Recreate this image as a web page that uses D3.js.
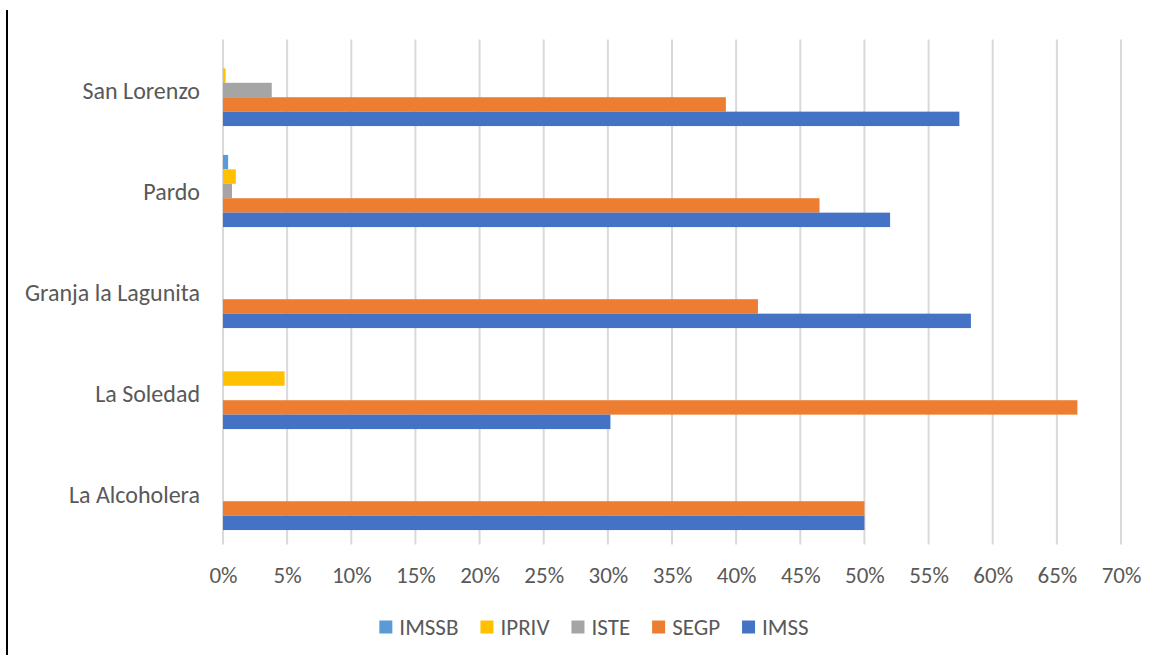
<!DOCTYPE html>
<html>
<head>
<meta charset="utf-8">
<script src="https://cdn.jsdelivr.net/npm/d3@7/dist/d3.min.js"></script>
<style>
  html, body { margin: 0; padding: 0; background: #fff; }
  svg { display: block; }
  text { font-family: Carlito, Calibri, Lato, sans-serif; fill: #595959; }
</style>
</head>
<body>
<svg id="chart" width="1160" height="660"></svg>
<script>
// ---- data ----
const categories = ["San Lorenzo", "Pardo", "Granja la Lagunita", "La Soledad", "La Alcoholera"];
const seriesNames = ["IMSSB", "IPRIV", "ISTE", "SEGP", "IMSS"];
const seriesColors = ["#5B9BD5", "#FFC000", "#A5A5A5", "#ED7D31", "#4472C4"];
const IMSSB = [0.000, 0.004, 0.000, 0.000, 0.000];
const IPRIV = [0.002, 0.010, 0.000, 0.048, 0.000];
const ISTE  = [0.038, 0.007, 0.000, 0.000, 0.000];
const SEGP  = [0.392, 0.465, 0.417, 0.666, 0.500];
const IMSS  = [0.574, 0.520, 0.583, 0.302, 0.500];
const xTicks = [0, 0.05, 0.10, 0.15, 0.20, 0.25, 0.30, 0.35, 0.40, 0.45, 0.50, 0.55, 0.60, 0.65, 0.70];

const seriesValues = [IMSSB, IPRIV, ISTE, SEGP, IMSS];

const svg = d3.select("#chart");
const plot = { left: 223, right: 1121, top: 39.5, bottom: 544.5 };
const FONT = "Carlito, Calibri, Lato, sans-serif";

// left frame line
svg.append("rect").attr("x", 6).attr("y", 10).attr("width", 2).attr("height", 645).attr("fill", "#000");

const x = d3.scaleLinear().domain([0, 0.7]).range([plot.left, plot.right]);
const y0 = d3.scaleBand().domain(categories).range([plot.top, plot.bottom])
  .paddingInner(2 / 7).paddingOuter(1 / 7);
const y1 = d3.scaleBand().domain(seriesNames).range([0, y0.bandwidth()]);

// gridlines
svg.append("g").selectAll("line").data(xTicks).join("line")
  .attr("x1", d => x(d)).attr("x2", d => x(d))
  .attr("y1", plot.top).attr("y2", plot.bottom)
  .attr("stroke", "#D9D9D9").attr("stroke-width", 2);

// bars
const groups = svg.append("g").selectAll("g").data(categories).join("g")
  .attr("transform", d => `translate(0,${y0(d)})`);
groups.selectAll("rect")
  .data((c, ci) => seriesNames.map((s, si) => ({ s, si, v: seriesValues[si][ci] })))
  .join("rect")
  .filter(d => d.v > 0)
  .attr("x", x(0))
  .attr("y", d => y1(d.s))
  .attr("width", d => x(d.v) - x(0))
  .attr("height", y1.bandwidth())
  .attr("fill", d => seriesColors[d.si]);

// x axis labels
const xAxis = d3.axisBottom(x).tickValues(xTicks).tickFormat(d3.format(".0%")).tickSize(0).tickPadding(0);
const gx = svg.append("g").attr("transform", `translate(0,${plot.bottom})`).call(xAxis);
gx.select(".domain").remove();
gx.selectAll("text").attr("dy", null).attr("y", 30).attr("dominant-baseline", "central")
  .style("font-size", "23px").attr("fill", "#595959").style("font-family", FONT);

// y axis labels
const yAxis = d3.axisLeft(y0).tickSize(0).tickPadding(0);
const gy = svg.append("g").attr("transform", `translate(200,0)`).call(yAxis);
gy.select(".domain").remove();
gy.selectAll("text").attr("dy", null).attr("x", 0).attr("dominant-baseline", "central")
  .style("font-size", "24px").attr("fill", "#595959").style("font-family", FONT);

// legend
const legend = svg.append("g");
const items = legend.selectAll("g").data(seriesNames).join("g");
items.append("rect").attr("width", 13).attr("height", 13).attr("y", -6.5)
  .attr("fill", (d, i) => seriesColors[i]);
items.append("text").attr("x", 20).attr("dominant-baseline", "central")
  .style("font-size", "23px").text(d => d);
const widths = [];
items.each(function () {
  widths.push(20 + this.querySelector("text").getComputedTextLength());
});
const gap = 22;
const total = d3.sum(widths) + gap * (widths.length - 1);
const start = 594 - total / 2;
items.attr("transform", (d, i) => {
  const tx = start + d3.sum(widths.slice(0, i)) + gap * i;
  return `translate(${tx},627)`;
});
</script>
</body>
</html>
